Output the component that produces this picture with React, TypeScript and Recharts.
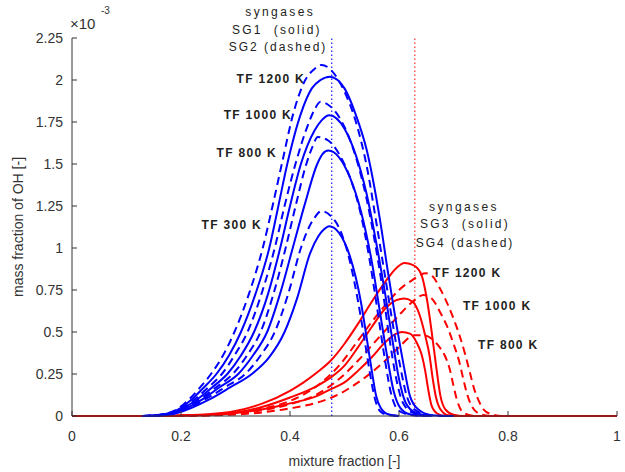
import { LineChart, Line, XAxis, YAxis, ReferenceLine, ReferenceDot } from "recharts";

type Pt = [number, number];

const FONT = "'Liberation Sans', Arial, sans-serif";
const BLUE = "#0000ff";
const RED = "#ff0000";
const INK = "#333333";

const MIX_TICKS = [0, 0.2, 0.4, 0.6, 0.8, 1];
const OH_TICKS = [0, 0.25, 0.5, 0.75, 1, 1.25, 1.5, 1.75, 2, 2.25];

// stoichiometric mixture fraction of each syngas pair
const Z_ST_SG12 = 0.4765;
const Z_ST_SG34 = 0.629;

// [mixture fraction, OH mass fraction x 1e-3]
const SG1_300: Pt[] = [[0.13, 0], [0.16, 0.003], [0.19, 0.015], [0.253, 0.1], [0.29, 0.17], [0.33, 0.25], [0.362, 0.35], [0.39, 0.5], [0.413, 0.7], [0.437, 0.97], [0.452, 1.07], [0.462, 1.11], [0.472, 1.13], [0.49, 1.09], [0.51, 0.95], [0.53, 0.68], [0.54, 0.48], [0.55, 0.27], [0.558, 0.12], [0.566, 0.05], [0.58, 0.01], [0.6, 0]];
const SG1_800: Pt[] = [[0.13, 0], [0.16, 0.004], [0.19, 0.02], [0.24, 0.1], [0.27, 0.17], [0.305, 0.25], [0.332, 0.36], [0.358, 0.5], [0.382, 0.73], [0.405, 1.0], [0.428, 1.27], [0.45, 1.5], [0.46, 1.56], [0.47, 1.58], [0.49, 1.54], [0.51, 1.42], [0.53, 1.22], [0.55, 0.92], [0.565, 0.62], [0.578, 0.36], [0.59, 0.15], [0.602, 0.05], [0.62, 0.01], [0.65, 0]];
const SG1_1000: Pt[] = [[0.13, 0], [0.16, 0.005], [0.19, 0.025], [0.23, 0.1], [0.257, 0.17], [0.285, 0.25], [0.31, 0.36], [0.334, 0.5], [0.36, 0.73], [0.382, 1.0], [0.4, 1.25], [0.42, 1.5], [0.445, 1.7], [0.458, 1.76], [0.472, 1.79], [0.5, 1.71], [0.52, 1.56], [0.54, 1.33], [0.56, 1.0], [0.575, 0.72], [0.588, 0.45], [0.6, 0.22], [0.612, 0.08], [0.63, 0.02], [0.66, 0]];
const SG1_1200: Pt[] = [[0.13, 0], [0.16, 0.006], [0.19, 0.03], [0.22, 0.1], [0.242, 0.17], [0.265, 0.25], [0.288, 0.36], [0.31, 0.5], [0.337, 0.73], [0.362, 1.0], [0.378, 1.24], [0.395, 1.5], [0.42, 1.8], [0.44, 1.95], [0.456, 2.0], [0.473, 2.02], [0.5, 1.95], [0.52, 1.8], [0.541, 1.58], [0.565, 1.17], [0.58, 0.85], [0.595, 0.55], [0.607, 0.33], [0.62, 0.12], [0.635, 0.04], [0.66, 0.005], [0.7, 0]];

const SG2_300: Pt[] = [[0.13, 0], [0.16, 0.004], [0.19, 0.018], [0.245, 0.1], [0.28, 0.17], [0.318, 0.25], [0.346, 0.36], [0.372, 0.5], [0.397, 0.73], [0.42, 1.0], [0.433, 1.11], [0.445, 1.18], [0.458, 1.22], [0.475, 1.19], [0.49, 1.12], [0.51, 0.92], [0.525, 0.68], [0.537, 0.45], [0.548, 0.23], [0.556, 0.1], [0.565, 0.03], [0.58, 0.005], [0.6, 0]];
const SG2_800: Pt[] = [[0.13, 0], [0.16, 0.005], [0.19, 0.022], [0.235, 0.1], [0.264, 0.17], [0.295, 0.25], [0.321, 0.36], [0.346, 0.5], [0.37, 0.73], [0.392, 1.0], [0.411, 1.26], [0.43, 1.5], [0.441, 1.6], [0.451, 1.66], [0.47, 1.64], [0.49, 1.56], [0.51, 1.42], [0.53, 1.2], [0.545, 0.95], [0.56, 0.64], [0.573, 0.36], [0.585, 0.14], [0.597, 0.04], [0.615, 0.01], [0.64, 0]];
const SG2_1000: Pt[] = [[0.13, 0], [0.16, 0.006], [0.19, 0.028], [0.225, 0.1], [0.25, 0.17], [0.275, 0.25], [0.298, 0.36], [0.322, 0.5], [0.348, 0.73], [0.372, 1.0], [0.39, 1.25], [0.41, 1.5], [0.435, 1.75], [0.446, 1.83], [0.456, 1.87], [0.475, 1.84], [0.5, 1.72], [0.52, 1.55], [0.54, 1.3], [0.555, 1.05], [0.57, 0.75], [0.583, 0.45], [0.595, 0.22], [0.607, 0.08], [0.625, 0.02], [0.655, 0]];
const SG2_1200: Pt[] = [[0.13, 0], [0.16, 0.008], [0.19, 0.035], [0.215, 0.1], [0.235, 0.17], [0.255, 0.25], [0.277, 0.36], [0.298, 0.5], [0.325, 0.73], [0.35, 1.0], [0.368, 1.25], [0.385, 1.5], [0.406, 1.8], [0.428, 2.0], [0.443, 2.06], [0.458, 2.09], [0.475, 2.06], [0.5, 1.93], [0.52, 1.76], [0.54, 1.5], [0.56, 1.12], [0.575, 0.82], [0.59, 0.52], [0.602, 0.3], [0.615, 0.11], [0.63, 0.035], [0.655, 0.005], [0.69, 0]];

const SG3_800: Pt[] = [[0, 0], [0.15, 0], [0.2, 0.002], [0.25, 0.006], [0.3, 0.018], [0.35, 0.04], [0.4, 0.075], [0.45, 0.12], [0.475, 0.16], [0.5, 0.2], [0.525, 0.27], [0.55, 0.35], [0.575, 0.44], [0.595, 0.49], [0.605, 0.5], [0.62, 0.49], [0.632, 0.44], [0.642, 0.36], [0.648, 0.27], [0.654, 0.15], [0.66, 0.06], [0.67, 0.015], [0.685, 0], [1, 0]];
const SG3_1000: Pt[] = [[0, 0], [0.15, 0], [0.2, 0.002], [0.25, 0.007], [0.3, 0.02], [0.35, 0.055], [0.4, 0.11], [0.45, 0.18], [0.475, 0.23], [0.5, 0.3], [0.525, 0.41], [0.55, 0.53], [0.575, 0.64], [0.595, 0.69], [0.61, 0.7], [0.625, 0.68], [0.638, 0.6], [0.648, 0.48], [0.656, 0.36], [0.662, 0.22], [0.668, 0.11], [0.676, 0.04], [0.69, 0.005], [0.71, 0], [1, 0]];
const SG3_1200: Pt[] = [[0, 0], [0.15, 0], [0.2, 0.003], [0.25, 0.01], [0.3, 0.03], [0.35, 0.075], [0.4, 0.15], [0.425, 0.2], [0.45, 0.26], [0.475, 0.33], [0.5, 0.43], [0.525, 0.55], [0.55, 0.68], [0.575, 0.8], [0.595, 0.88], [0.61, 0.91], [0.625, 0.9], [0.64, 0.85], [0.652, 0.68], [0.66, 0.5], [0.668, 0.3], [0.676, 0.12], [0.685, 0.04], [0.7, 0.008], [0.72, 0], [1, 0]];

const SG4_800: Pt[] = [[0, 0], [0.15, 0], [0.2, 0.001], [0.25, 0.003], [0.3, 0.009], [0.35, 0.022], [0.4, 0.045], [0.45, 0.08], [0.49, 0.13], [0.525, 0.2], [0.55, 0.26], [0.575, 0.33], [0.6, 0.41], [0.628, 0.48], [0.645, 0.48], [0.66, 0.46], [0.672, 0.42], [0.684, 0.36], [0.693, 0.28], [0.7, 0.18], [0.706, 0.1], [0.715, 0.03], [0.73, 0.005], [0.745, 0], [1, 0]];
const SG4_1000: Pt[] = [[0, 0], [0.15, 0], [0.2, 0.001], [0.25, 0.004], [0.3, 0.013], [0.35, 0.035], [0.4, 0.07], [0.45, 0.13], [0.49, 0.22], [0.525, 0.33], [0.55, 0.42], [0.575, 0.51], [0.6, 0.6], [0.625, 0.68], [0.645, 0.72], [0.66, 0.7], [0.675, 0.62], [0.69, 0.52], [0.7, 0.43], [0.71, 0.33], [0.718, 0.22], [0.725, 0.13], [0.735, 0.05], [0.75, 0.01], [0.77, 0], [1, 0]];
const SG4_1200: Pt[] = [[0, 0], [0.15, 0], [0.2, 0.002], [0.25, 0.006], [0.3, 0.02], [0.35, 0.045], [0.4, 0.09], [0.45, 0.18], [0.49, 0.3], [0.525, 0.45], [0.55, 0.56], [0.575, 0.66], [0.6, 0.75], [0.625, 0.81], [0.648, 0.85], [0.662, 0.83], [0.675, 0.76], [0.69, 0.66], [0.7, 0.58], [0.712, 0.47], [0.722, 0.36], [0.73, 0.26], [0.738, 0.16], [0.745, 0.1], [0.755, 0.04], [0.77, 0.01], [0.79, 0], [1, 0]];

// red pair first so the blue tails sit on top of the zero line
const SERIES = [
  { id: "sg3-800", pts: SG3_800, color: RED, dashed: false },
  { id: "sg3-1000", pts: SG3_1000, color: RED, dashed: false },
  { id: "sg3-1200", pts: SG3_1200, color: RED, dashed: false },
  { id: "sg4-800", pts: SG4_800, color: RED, dashed: true },
  { id: "sg4-1000", pts: SG4_1000, color: RED, dashed: true },
  { id: "sg4-1200", pts: SG4_1200, color: RED, dashed: true },
  { id: "sg1-300", pts: SG1_300, color: BLUE, dashed: false },
  { id: "sg1-800", pts: SG1_800, color: BLUE, dashed: false },
  { id: "sg1-1000", pts: SG1_1000, color: BLUE, dashed: false },
  { id: "sg1-1200", pts: SG1_1200, color: BLUE, dashed: false },
  { id: "sg2-300", pts: SG2_300, color: BLUE, dashed: true },
  { id: "sg2-800", pts: SG2_800, color: BLUE, dashed: true },
  { id: "sg2-1000", pts: SG2_1000, color: BLUE, dashed: true },
  { id: "sg2-1200", pts: SG2_1200, color: BLUE, dashed: true },
];

type Note = { text: string; x: number; y: number; anchor: "start" | "middle" | "end"; spacing: number; bold: boolean };

// in-plot annotations, anchored in data coordinates
const NOTES: Note[] = [
  { text: "syngases", x: 0.382, y: 2.405, anchor: "middle", spacing: 2.4, bold: false },
  { text: "SG1  (solid)", x: 0.376, y: 2.3, anchor: "middle", spacing: 2.2, bold: false },
  { text: "SG2 (dashed)", x: 0.378, y: 2.195, anchor: "middle", spacing: 2.0, bold: false },
  { text: "TF 1200 K", x: 0.4275, y: 2.006, anchor: "end", spacing: 1.3, bold: true },
  { text: "TF 1000 K", x: 0.4037, y: 1.792, anchor: "end", spacing: 1.3, bold: true },
  { text: "TF 800 K", x: 0.3761, y: 1.565, anchor: "end", spacing: 1.3, bold: true },
  { text: "TF 300 K", x: 0.3486, y: 1.137, anchor: "end", spacing: 1.3, bold: true },
  { text: "syngases", x: 0.7193, y: 1.244, anchor: "middle", spacing: 2.4, bold: false },
  { text: "SG3  (solid)", x: 0.7211, y: 1.143, anchor: "middle", spacing: 2.2, bold: false },
  { text: "SG4 (dashed)", x: 0.7211, y: 1.03, anchor: "middle", spacing: 2.0, bold: false },
  { text: "TF 1200 K", x: 0.6624, y: 0.851, anchor: "start", spacing: 1.3, bold: true },
  { text: "TF 1000 K", x: 0.7174, y: 0.655, anchor: "start", spacing: 1.3, bold: true },
  { text: "TF 800 K", x: 0.745, y: 0.423, anchor: "start", spacing: 1.3, bold: true },
];

const toRows = (pts: Pt[]) => pts.map(([x, y]) => ({ x, y }));

export default function App() {
  return (
    <div style={{ position: "absolute", left: 0, top: 0, width: 625, height: 472, background: "#fff" }}>
      <LineChart width={625} height={472} margin={{ top: 38, right: 8, left: 0, bottom: 0 }}>
        <XAxis
          type="number"
          dataKey="x"
          domain={[0, 1]}
          ticks={MIX_TICKS}
          height={56}
          tickSize={-5}
          tickMargin={20}
          stroke={INK}
          tick={{ fontSize: 14, fill: INK, fontFamily: FONT }}
          label={{ value: "mixture fraction [-]", position: "insideBottom", offset: 6, fontSize: 14, fill: INK, fontFamily: FONT }}
        />
        <YAxis
          type="number"
          dataKey="y"
          domain={[0, 2.25]}
          ticks={OH_TICKS}
          width={72}
          tickSize={-5}
          tickMargin={14}
          stroke={INK}
          tick={{ fontSize: 14, fill: INK, fontFamily: FONT }}
          label={{
            value: "mass fraction of OH [-]",
            angle: -90,
            position: "insideLeft",
            offset: 18,
            fontSize: 14,
            fill: INK,
            fontFamily: FONT,
            style: { textAnchor: "middle" },
          }}
        />
        <ReferenceLine x={Z_ST_SG12} stroke={BLUE} strokeOpacity={0.8} strokeWidth={1.4} strokeDasharray="1.5 2.5" />
        <ReferenceLine x={Z_ST_SG34} stroke={RED} strokeOpacity={0.7} strokeWidth={1.4} strokeDasharray="1.5 2.5" />
        {SERIES.map((s) => (
          <Line
            key={s.id}
            data={toRows(s.pts)}
            dataKey="y"
            type="monotone"
            stroke={s.color}
            strokeWidth={2}
            strokeDasharray={s.dashed ? "8 5" : undefined}
            dot={false}
            activeDot={false}
            isAnimationActive={false}
          />
        ))}
        <ReferenceDot
          x={0}
          y={2.25}
          r={1}
          ifOverflow="visible"
          shape={(p: any) => (
            <g fontFamily={FONT} fill={INK}>
              <text x={p.cx - 2} y={p.cy - 15} fontSize={15} dominantBaseline="central">
                ×10
              </text>
              <text x={p.cx + 29} y={p.cy - 28} fontSize={10} dominantBaseline="central">
                -3
              </text>
            </g>
          )}
        />
        {NOTES.map((n, i) => (
          <ReferenceDot
            key={i}
            x={n.x}
            y={n.y}
            r={1}
            ifOverflow="visible"
            shape={(p: any) => (
              <text
                x={p.cx}
                y={p.cy}
                textAnchor={n.anchor}
                dominantBaseline="central"
                fontFamily={FONT}
                fontSize={12}
                fontWeight={n.bold ? "bold" : "normal"}
                fill="#222"
                letterSpacing={n.spacing}
                style={{ whiteSpace: "pre" }}
              >
                {n.text}
              </text>
            )}
          />
        ))}
      </LineChart>
    </div>
  );
}
